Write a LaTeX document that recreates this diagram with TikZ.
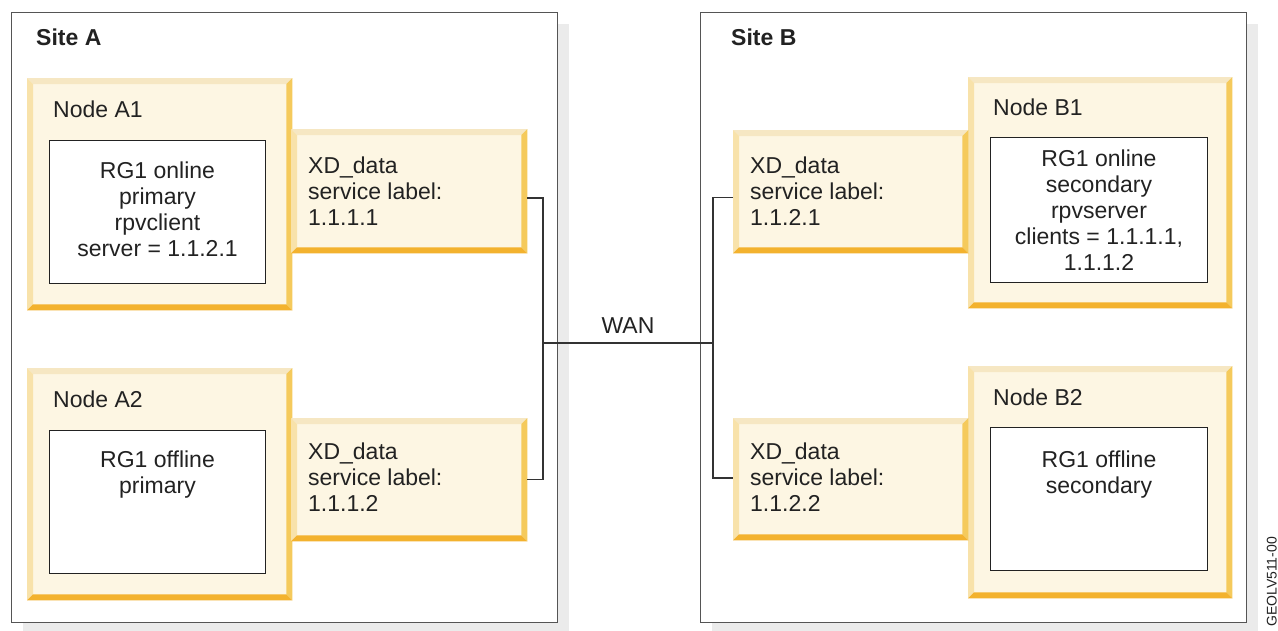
\documentclass[tikz,border=0pt]{standalone}
\usepackage{fontspec}
\setmainfont{Liberation Sans}
\usetikzlibrary{positioning,shadows}

\definecolor{bevfill}{HTML}{FDF6E3}
\definecolor{bevtop}{HTML}{F6E7C3}
\definecolor{bevleft}{HTML}{F8E2AA}
\definecolor{bevright}{HTML}{F5CA5C}
\definecolor{bevbottom}{HTML}{F3B22E}
\definecolor{sitegray}{HTML}{555555}
\definecolor{shadowgray}{HTML}{EBEBEB}
\definecolor{wiregray}{HTML}{333333}
\definecolor{inkgray}{HTML}{222222}

\tikzset{
  site/.style={draw=sitegray, line width=1.3pt, fill=white, anchor=north west,
    drop shadow={shadow xshift=11pt, shadow yshift=-11pt, fill=shadowgray, opacity=1}},
  frame/.style={fill=bevfill, inner sep=0pt, anchor=north west},
  rgbox/.style={draw=inkgray, line width=1pt, fill=white, inner sep=0pt, anchor=north west},
  txt/.style={text=inkgray, inner sep=0pt, font=\fontsize{23}{26}\selectfont},
  sitelbl/.style={txt, anchor=base west, font=\fontsize{23}{26}\selectfont\bfseries},
  nodelbl/.style={txt, anchor=base west},
  wire/.style={draw=wiregray, line width=1.5pt}
}

% bevelled rim of a frame node
\newcommand\bevel[1]{%
  \fill[bevtop] (#1.north west) -- (#1.north east) -- ([shift={(-6pt,-6pt)}]#1.north east)
    -- ([shift={(6pt,-6pt)}]#1.north west) -- cycle;
  \fill[bevleft] (#1.north west) -- ([shift={(6pt,-6pt)}]#1.north west)
    -- ([shift={(6pt,6pt)}]#1.south west) -- (#1.south west) -- cycle;
  \fill[bevright] (#1.north east) -- (#1.south east) -- ([shift={(-6pt,6pt)}]#1.south east)
    -- ([shift={(-6pt,-6pt)}]#1.north east) -- cycle;
  \fill[bevbottom] (#1.south west) -- (#1.south east) -- ([shift={(-6pt,6pt)}]#1.south east)
    -- ([shift={(6pt,6pt)}]#1.south west) -- cycle;
}

\begin{document}
\begin{tikzpicture}[x=1pt, y=-1pt]
  \useasboundingbox (0,0) rectangle (1278,630);

  % sites
  \node[site, minimum width=546pt, minimum height=610pt] (siteA) at (11,12) {};
  \node[site, minimum width=546pt, minimum height=610pt] (siteB) at (700,12) {};
  \node[sitelbl] (lblSiteA) at (36,45) {Site A};
  \node[sitelbl] (lblSiteB) at (731,45) {Site B};

  % cluster nodes and service labels
  \node[frame, minimum width=265pt, minimum height=232pt] (nodeA1) at (27,78) {};
  \node[frame, minimum width=236pt, minimum height=124pt] (xdA1) at (291,129) {};
  \node[frame, minimum width=265pt, minimum height=232pt] (nodeA2) at (27,368) {};
  \node[frame, minimum width=236pt, minimum height=123pt] (xdA2) at (291,418) {};
  \node[frame, minimum width=264pt, minimum height=231pt] (nodeB1) at (968,77) {};
  \node[frame, minimum width=235pt, minimum height=123pt] (xdB1) at (733,130) {};
  \node[frame, minimum width=264pt, minimum height=232pt] (nodeB2) at (968,366) {};
  \node[frame, minimum width=235pt, minimum height=122pt] (xdB2) at (733,418) {};
  \foreach \n in {nodeA1,xdA1,nodeA2,xdA2,nodeB1,xdB1,nodeB2,xdB2}
    {\bevel{\n}}

  \node[nodelbl] (lblA1) at (53,117) {Node A1};
  \node[nodelbl] (lblA2) at (53,407) {Node A2};
  \node[nodelbl] (lblB1) at (993,115) {Node B1};
  \node[nodelbl] (lblB2) at (993,405) {Node B2};

  % resource groups
  \node[rgbox, minimum width=216pt, minimum height=143pt] (rgA1) at (49,140) {};
  \node[rgbox, minimum width=216pt, minimum height=143pt] (rgA2) at (49,430) {};
  \node[rgbox, minimum width=217pt, minimum height=145pt] (rgB1) at (990,137) {};
  \node[rgbox, minimum width=217pt, minimum height=143pt] (rgB2) at (990,427) {};

  \node[txt, align=center, below=22pt of rgA1.north] (txtA1)
    {RG1 online\\primary\\rpvclient\\server = 1.1.2.1};
  \node[txt, align=center, below=21pt of rgA2.north] (txtA2)
    {RG1 offline\\primary};
  \node[txt, align=center, below=13pt of rgB1.north] (txtB1)
    {RG1 online\\secondary\\rpvserver\\clients = 1.1.1.1,\\1.1.1.2};
  \node[txt, align=center, below=24pt of rgB2.north] (txtB2)
    {RG1 offline\\secondary};

  \node[txt, align=left, anchor=north west] (txtXA1) at (308,157)
    {XD\_data\\service label:\\1.1.1.1};
  \node[txt, align=left, anchor=north west] (txtXA2) at (308,443)
    {XD\_data\\service label:\\1.1.1.2};
  \node[txt, align=left, anchor=north west] (txtXB1) at (750,157)
    {XD\_data\\service label:\\1.1.2.1};
  \node[txt, align=left, anchor=north west] (txtXB2) at (750,443)
    {XD\_data\\service label:\\1.1.2.2};

  % WAN link
  \coordinate (wanA) at (543,343);
  \coordinate (wanB) at (713,343);
  \draw[wire] ([yshift=-7pt]xdA1.east) -| (wanA) |- (xdA2.east);
  \draw[wire] ([yshift=-6pt]xdB1.west) -| (wanB) |- ([yshift=1pt]xdB2.west);
  \draw[wire] (wanA) -- node[txt, above=9pt] (lblWAN) {WAN} (wanB);

  \node[txt, font=\fontsize{14}{17}\selectfont, rotate=90, anchor=base west] (figid)
    at (1276.5,627) {GEOLV511-00};
\end{tikzpicture}
\end{document}
